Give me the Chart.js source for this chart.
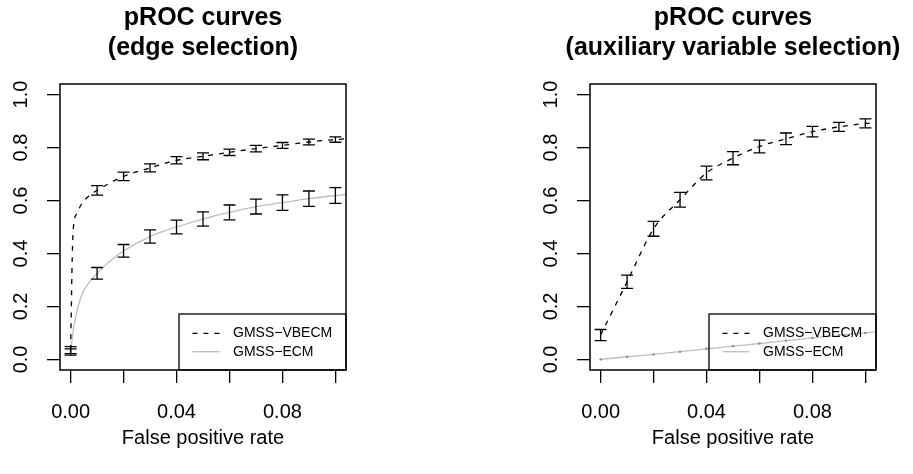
<!DOCTYPE html>
<html>
<head>
<meta charset="utf-8">
<script src="https://cdn.jsdelivr.net/npm/chart.js@4.4.1/dist/chart.umd.min.js"></script>
<style>
  html, body { margin: 0; padding: 0; background: #fff; }
  #wrap { position: relative; width: 913px; height: 474px; }
  canvas { position: absolute; top: 0; }
  #edgeChart { left: 0; }
  #auxChart { left: 456px; }
</style>
</head>
<body>
<div id="wrap">
  <canvas id="edgeChart" width="456" height="474"></canvas>
  <canvas id="auxChart" width="457" height="474"></canvas>
</div>
<script>
// false positive rates where the error bars are drawn
const fprGrid = [0, 0.01, 0.02, 0.03, 0.04, 0.05, 0.06, 0.07, 0.08, 0.09, 0.10];
const xTicks = [0, 0.02, 0.04, 0.06, 0.08, 0.10];
const xTickLabels = ['0.00', '', '0.04', '', '0.08', ''];
const yTicks = [0, 0.2, 0.4, 0.6, 0.8, 1.0];
const yTickLabels = ['0.0', '0.2', '0.4', '0.6', '0.8', '1.0'];
const seriesNames = ['GMSS\u2212VBECM', 'GMSS\u2212ECM'];

// edge selection: mean curves
const edgeVbFpr = [0, 0.0003, 0.0005, 0.001, 0.0025, 0.004, 0.007, 0.01, 0.02, 0.03, 0.04, 0.05, 0.06, 0.07, 0.08, 0.09, 0.10, 0.104];
const edgeVbTpr = [0.035, 0.2, 0.33, 0.49, 0.553, 0.585, 0.618, 0.638, 0.691, 0.723, 0.752, 0.767, 0.782, 0.796, 0.808, 0.821, 0.830, 0.833];
const edgeEcmFpr = [0, 0.0012, 0.0025, 0.0045, 0.007, 0.01, 0.015, 0.02, 0.03, 0.04, 0.05, 0.06, 0.07, 0.08, 0.09, 0.10, 0.104];
const edgeEcmTpr = [0.028, 0.123, 0.187, 0.25, 0.29, 0.325, 0.372, 0.41, 0.464, 0.50, 0.53, 0.555, 0.577, 0.592, 0.607, 0.619, 0.623];
// edge selection: error bars on fprGrid
const edgeVbMean = [0.035, 0.638, 0.691, 0.723, 0.752, 0.767, 0.782, 0.796, 0.808, 0.821, 0.830];
const edgeVbSe = [0.013, 0.018, 0.016, 0.015, 0.014, 0.013, 0.012, 0.012, 0.011, 0.011, 0.010];
const edgeEcmMean = [0.028, 0.325, 0.41, 0.464, 0.50, 0.53, 0.555, 0.577, 0.592, 0.607, 0.619];
const edgeEcmSe = [0.012, 0.022, 0.024, 0.025, 0.026, 0.027, 0.028, 0.028, 0.029, 0.029, 0.030];

// auxiliary variable selection: mean curves
const auxVbFpr = [0, 0.01, 0.02, 0.03, 0.04, 0.05, 0.06, 0.07, 0.08, 0.09, 0.10, 0.104];
const auxVbTpr = [0.092, 0.293, 0.493, 0.603, 0.704, 0.760, 0.804, 0.833, 0.860, 0.878, 0.891, 0.894];
const auxEcmFpr = [0, 0.01, 0.02, 0.03, 0.04, 0.05, 0.06, 0.07, 0.08, 0.09, 0.10, 0.104];
const auxEcmTpr = [0.0, 0.01, 0.019, 0.029, 0.04, 0.05, 0.06, 0.071, 0.081, 0.092, 0.10, 0.104];
// auxiliary variable selection: error bars on fprGrid
const auxVbMean = [0.092, 0.293, 0.493, 0.603, 0.704, 0.760, 0.804, 0.833, 0.860, 0.878, 0.891];
const auxVbSe = [0.021, 0.025, 0.028, 0.028, 0.026, 0.025, 0.024, 0.022, 0.020, 0.017, 0.017];

const FONT = "'Liberation Sans', Arial, Helvetica, sans-serif";

const toPoints = (xs, ys) => xs.map((x, i) => ({ x, y: ys[i] }));

// box, error bars, legend and two-line title, R style
const rPanel = {
  id: 'rPanel',
  afterDatasetsDraw(chart, args, opts) {
    const { ctx, chartArea: a } = chart;
    const xs = chart.scales.x, ys = chart.scales.y;
    ctx.save();
    ctx.strokeStyle = '#000';
    ctx.lineWidth = 1.3;
    ctx.setLineDash([]);

    // error bars
    opts.bars.forEach(b => {
      b.mean.forEach((m, i) => {
        const px = xs.getPixelForValue(fprGrid[i]);
        const top = ys.getPixelForValue(m + b.se[i]);
        const bot = ys.getPixelForValue(m - b.se[i]);
        ctx.beginPath();
        ctx.moveTo(px, top); ctx.lineTo(px, bot);
        ctx.moveTo(px - 6, top); ctx.lineTo(px + 6, top);
        ctx.moveTo(px - 6, bot); ctx.lineTo(px + 6, bot);
        ctx.stroke();
      });
    });

    // legend in the lower right corner
    const lw = 167, lh = 56;
    const lx = a.right - lw, ly = a.bottom - lh;
    ctx.strokeRect(lx, ly, lw, lh);
    ctx.font = '14px ' + FONT;
    ctx.textBaseline = 'middle';
    ctx.textAlign = 'left';
    chart.data.datasets.forEach((ds, i) => {
      const ry = ly + 19.3 + i * 18.4;
      ctx.save();
      ctx.strokeStyle = ds.borderColor;
      ctx.lineWidth = ds.borderWidth;
      ctx.setLineDash(ds.borderDash || []);
      ctx.beginPath();
      ctx.moveTo(lx + 13.4, ry); ctx.lineTo(lx + 40.7, ry);
      ctx.stroke();
      ctx.restore();
      ctx.fillStyle = '#000';
      ctx.fillText(ds.label, lx + 54, ry);
    });

    // plot frame
    ctx.lineWidth = 1.5;
    ctx.strokeRect(a.left, a.top, a.right - a.left, a.bottom - a.top);

    // title
    ctx.font = 'bold 25px ' + FONT;
    ctx.textAlign = 'center';
    ctx.textBaseline = 'alphabetic';
    const cx = (a.left + a.right) / 2;
    opts.title.forEach((line, i) => ctx.fillText(line, cx, 25 + i * 30));
    ctx.restore();
  }
};

function makePanel(canvasId, cfg) {
  const tickFont = { family: FONT, size: 20 };
  return new Chart(document.getElementById(canvasId), {
    type: 'line',
    data: {
      datasets: [
        {
          label: seriesNames[0],
          data: toPoints(cfg.vbFpr, cfg.vbTpr),
          borderColor: '#000',
          borderWidth: 1.3,
          borderDash: [5, 6],
          pointRadius: 0,
          cubicInterpolationMode: 'monotone',
          fill: false
        },
        {
          label: seriesNames[1],
          data: toPoints(cfg.ecmFpr, cfg.ecmTpr),
          borderColor: '#bebebe',
          borderWidth: 1.3,
          pointRadius: cfg.ecmDots ? cfg.ecmFpr.map(x => (x <= 0.1 ? 1.2 : 0)) : 0,
          pointBackgroundColor: '#888',
          pointBorderWidth: 0,
          cubicInterpolationMode: 'monotone',
          fill: false
        }
      ]
    },
    options: {
      responsive: false,
      animation: false,
      layout: { padding: { top: 84, right: cfg.rightPad, bottom: 0, left: 0 } },
      scales: {
        x: {
          type: 'linear',
          min: -0.004,
          max: 0.104,
          afterBuildTicks: s => { s.ticks = xTicks.map(v => ({ value: v })); },
          afterFit: s => { s.height = 104; },
          border: { display: false },
          grid: { drawOnChartArea: false, tickLength: 13, color: '#000', lineWidth: 1.3 },
          ticks: {
            autoSkip: false, maxRotation: 0, minRotation: 0, padding: 17,
            color: '#000', font: tickFont,
            callback: (v, i) => xTickLabels[i]
          },
          title: {
            display: true, text: 'False positive rate', color: '#000',
            font: tickFont, padding: { top: 0, bottom: 24 }
          }
        },
        y: {
          min: -0.04,
          max: 1.04,
          afterBuildTicks: s => { s.ticks = yTicks.map(v => ({ value: v })); },
          afterFit: s => { s.width = cfg.yWidth; },
          border: { display: false },
          grid: { drawOnChartArea: false, tickLength: 13, color: '#000', lineWidth: 1.3 },
          ticks: {
            autoSkip: false, minRotation: 90, maxRotation: 90, crossAlign: 'center', padding: 12,
            color: '#000', font: tickFont,
            callback: (v, i) => yTickLabels[i]
          }
        }
      },
      plugins: {
        legend: { display: false },
        tooltip: { enabled: false },
        rPanel: { title: cfg.title, bars: cfg.bars }
      }
    },
    plugins: [rPanel]
  });
}

makePanel('edgeChart', {
  title: ['pROC curves', '(edge selection)'],
  vbFpr: edgeVbFpr, vbTpr: edgeVbTpr,
  ecmFpr: edgeEcmFpr, ecmTpr: edgeEcmTpr,
  bars: [{ mean: edgeVbMean, se: edgeVbSe }, { mean: edgeEcmMean, se: edgeEcmSe }],
  yWidth: 60, rightPad: 110
});

makePanel('auxChart', {
  title: ['pROC curves', '(auxiliary variable selection)'],
  vbFpr: auxVbFpr, vbTpr: auxVbTpr,
  ecmFpr: auxEcmFpr, ecmTpr: auxEcmTpr, ecmDots: true,
  bars: [{ mean: auxVbMean, se: auxVbSe }],
  yWidth: 134, rightPad: 37
});
</script>
</body>
</html>
